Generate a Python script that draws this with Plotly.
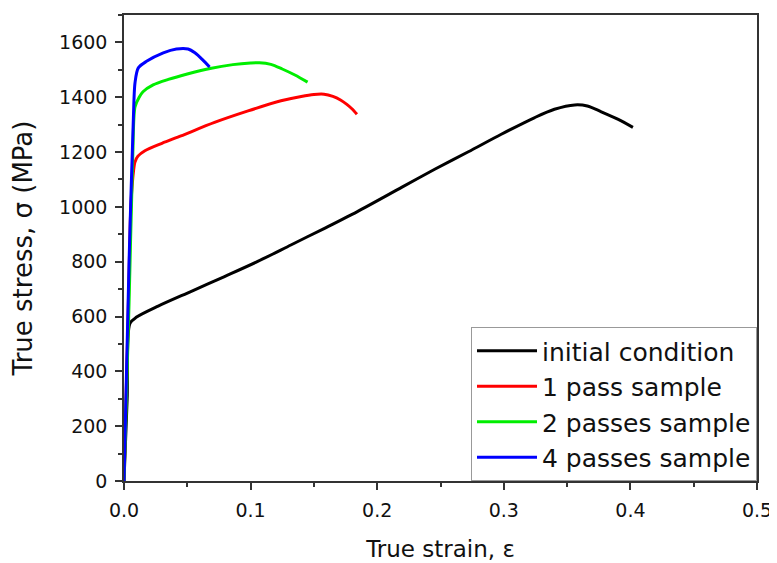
import plotly.graph_objects as go

# ---- data ----
initial_strain = [0.0, 0.0025, 0.0047, 0.010, 0.027, 0.0532, 0.0794, 0.1056, 0.1318, 0.158, 0.184,
                  0.2196, 0.2458, 0.272, 0.298, 0.3245, 0.340, 0.356, 0.366, 0.377, 0.390, 0.402]
initial_stress = [0, 300, 575, 598, 638, 692, 746, 801, 861, 921, 982,
                  1072, 1138, 1201, 1265, 1326, 1356, 1372, 1368, 1347, 1320, 1290]

pass1_strain = [0.0, 0.003, 0.005, 0.006, 0.0075, 0.0086, 0.011, 0.0165, 0.030, 0.045, 0.0715, 0.098,
                0.124, 0.140, 0.150, 0.158, 0.165, 0.171, 0.176, 0.180, 0.184]
pass1_stress = [0, 550, 950, 1050, 1130, 1163, 1185, 1205, 1232, 1259, 1308, 1350,
                1387, 1403, 1410, 1411, 1403, 1390, 1374, 1358, 1338]

pass2_strain = [0.0, 0.004, 0.007, 0.0087, 0.012, 0.015, 0.023, 0.035, 0.050, 0.068, 0.086,
                0.100, 0.107, 0.116, 0.125, 0.135, 0.145]
pass2_stress = [0, 650, 1200, 1365, 1400, 1420, 1445, 1465, 1485, 1505, 1519,
                1525, 1526, 1520, 1503, 1481, 1455]

pass4_strain = [0.0, 0.004, 0.0073, 0.0087, 0.0113, 0.0178, 0.031, 0.0414, 0.0506, 0.056,
                0.062, 0.0676]
pass4_stress = [0, 800, 1308, 1453, 1507, 1531, 1562, 1576, 1576, 1562,
                1537, 1510]

series_names = ["initial condition", "1 pass sample", "2 passes sample", "4 passes sample"]
series_colors = ["#000000", "#ff0000", "#00ee00", "#0000ff"]
x_tick_vals = [0.0, 0.1, 0.2, 0.3, 0.4, 0.5]
x_tick_text = ["0.0", "0.1", "0.2", "0.3", "0.4", "0.5"]
y_tick_vals = [0, 200, 400, 600, 800, 1000, 1200, 1400, 1600]

FONT = "DejaVu Sans, Arial, sans-serif"
TXT = "#111111"
AX = "#333333"

fig = go.Figure()
data = [(initial_strain, initial_stress), (pass1_strain, pass1_stress),
        (pass2_strain, pass2_stress), (pass4_strain, pass4_stress)]
for (xs, ys), name, col in zip(data, series_names, series_colors):
    fig.add_trace(go.Scatter(x=xs, y=ys, mode="lines", name=name,
                             line=dict(color=col, width=3, shape="spline", smoothing=0.8)))

axis_common = dict(showline=True, linecolor=AX, linewidth=1.5, mirror=True,
                   ticks="outside", ticklen=7, tickwidth=1.5, tickcolor=AX,
                   showgrid=False, zeroline=False,
                   tickfont=dict(family=FONT, size=19, color=TXT))

fig.update_xaxes(range=[0, 0.5], tickvals=x_tick_vals, ticktext=x_tick_text,
                 title=dict(text="True strain, ε", font=dict(family=FONT, size=23, color=TXT), standoff=21),
                 ticklabelstandoff=4, ticklabeloverflow="allow",
                 minor=dict(ticks="outside", ticklen=4, tickwidth=1.5, tickcolor=AX, tick0=0.05, dtick=0.1),
                 **axis_common)
fig.update_yaxes(range=[0, 1700], tickvals=y_tick_vals,
                 title=dict(text="True stress, σ (MPa)", font=dict(family=FONT, size=26, color=TXT), standoff=20),
                 ticklabelstandoff=4,
                 minor=dict(ticks="outside", ticklen=4, tickwidth=1.5, tickcolor=AX, tick0=100, dtick=200),
                 **axis_common)

# page body has an 8px default margin; figure is offset accordingly
fig.update_layout(
    width=769, height=555,
    margin=dict(l=116, r=17, t=5, b=82),
    paper_bgcolor="white", plot_bgcolor="white",
    showlegend=True,
    legend=dict(x=1, y=0, xanchor="right", yanchor="bottom",
                bordercolor="#999999", borderwidth=1, bgcolor="white",
                font=dict(family=FONT, size=25, color=TXT),
                traceorder="normal", itemwidth=60),
)

fig.write_html("out.html")
